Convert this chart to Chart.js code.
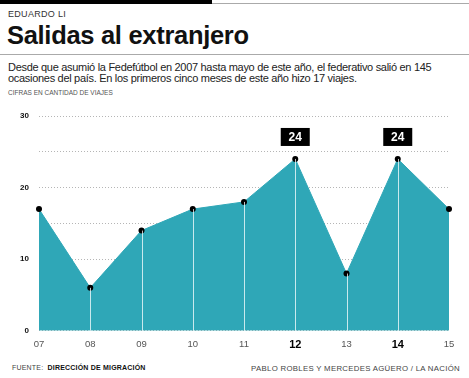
<!DOCTYPE html>
<html lang="es">
<head>
<meta charset="UTF-8">
<title>Salidas al extranjero</title>
<script src="https://cdn.jsdelivr.net/npm/chart.js"></script>
<style>
    body {
        margin: 0;
        width: 469px;
        height: 378px;
        background: #fff;
        font-family: "Liberation Sans", Arial, sans-serif;
        position: relative;
        overflow: hidden;
    }
    .topbar { position: absolute; left: 0; top: 0; width: 212px; height: 4px; background: #000; }
    .topline { position: absolute; left: 212px; top: 3px; right: 0; height: 1px; background: #aaa; }
    .author { position: absolute; left: 8px; top: 9px; font-size: 9px; color: #333; letter-spacing: 0.3px; }
    h1 { position: absolute; left: 7px; top: 21px; margin: 0; font-size: 25.5px; font-weight: bold; color: #111; letter-spacing: -0.3px; }
    .rule { position: absolute; left: 0; right: 0; top: 54px; height: 1px; background: #aaa; }
    .intro { position: absolute; left: 8px; top: 62px; width: 458px; font-size: 11px; line-height: 10.5px; color: #222; letter-spacing: -0.3px; }
    .units { position: absolute; left: 8px; top: 89px; font-size: 6.5px; color: #555; }
    .chart-box { position: absolute; left: 0; top: 100px; width: 469px; height: 262px; }
    .foot-left { position: absolute; left: 12px; top: 364px; font-size: 7px; color: #444; letter-spacing: 0.2px; }
    .foot-left b { color: #111; margin-left: 2px; }
    .foot-right { position: absolute; right: 9px; top: 364px; font-size: 7.8px; color: #444; letter-spacing: 0.3px; }
</style>
</head>
<body>
    <div class="topbar"></div>
    <div class="topline"></div>
    <div class="author">EDUARDO LI</div>
    <h1>Salidas al extranjero</h1>
    <div class="rule"></div>
    <div class="intro">Desde que asumió la Fedefútbol en 2007 hasta mayo de este año, el federativo salió en 145 ocasiones del país. En los primeros cinco meses de este año hizo 17 viajes.</div>
    <div class="units">CIFRAS EN CANTIDAD DE VIAJES</div>
    <div class="chart-box"><canvas id="viajes"></canvas></div>
    <div class="foot-left">FUENTE: <b>DIRECCIÓN DE MIGRACIÓN</b></div>
    <div class="foot-right">PABLO ROBLES Y MERCEDES AGÜERO / LA NACIÓN</div>

<script>
    const years = ["07", "08", "09", "10", "11", "12", "13", "14", "15"];
    const trips = [17, 6, 14, 17, 18, 24, 8, 24, 17];
    const highlighted = ["12", "14"];

    const teal = "#2fa7b7";

    // lineas blancas verticales desde cada punto hasta la base
    const dropLines = {
        id: "dropLines",
        afterDatasetsDraw(chart) {
            const ctx = chart.ctx;
            const meta = chart.getDatasetMeta(0);
            const y0 = chart.scales.y.getPixelForValue(0);
            ctx.save();
            ctx.strokeStyle = "rgba(255,255,255,0.75)";
            ctx.lineWidth = 1;
            meta.data.forEach((pt, i) => {
                if (i === 0 || i === meta.data.length - 1) return;
                ctx.beginPath();
                ctx.moveTo(Math.round(pt.x) + 0.5, pt.y);
                ctx.lineTo(Math.round(pt.x) + 0.5, y0);
                ctx.stroke();
            });
            // etiquetas en caja negra
            meta.data.forEach((pt, i) => {
                if (!highlighted.includes(years[i])) return;
                const w = 29, h = 18;
                ctx.fillStyle = "#000";
                ctx.fillRect(pt.x - w / 2, pt.y - 31, w, h);
                ctx.fillStyle = "#fff";
                ctx.font = "bold 12px 'Liberation Sans', Arial, sans-serif";
                ctx.textAlign = "center";
                ctx.textBaseline = "middle";
                ctx.fillText(String(trips[i]), pt.x, pt.y - 21.5);
            });
            ctx.restore();
        }
    };

    new Chart(document.getElementById("viajes"), {
        type: "line",
        data: {
            labels: years,
            datasets: [{
                data: trips,
                borderColor: teal,
                borderWidth: 1,
                backgroundColor: teal,
                fill: "origin",
                tension: 0,
                pointRadius: 3,
                pointBackgroundColor: "#000",
                pointBorderColor: "#000",
                pointBorderWidth: 0
            }]
        },
        options: {
            responsive: true,
            maintainAspectRatio: false,
            animation: false,
            layout: { padding: { top: 16, right: 20, bottom: 10, left: 0 } },
            plugins: { legend: { display: false }, tooltip: { enabled: false } },
            scales: {
                x: {
                    offset: false,
                    grid: { display: false },
                    border: { display: false },
                    ticks: {
                        padding: 0,
                        color: ctx => highlighted.includes(years[ctx.index]) ? "#000" : "#555",
                        font: ctx => ({
                            family: "'Liberation Sans', Arial, sans-serif",
                            size: highlighted.includes(years[ctx.index]) ? 11 : 9.5,
                            weight: highlighted.includes(years[ctx.index]) ? "bold" : "normal"
                        })
                    }
                },
                y: {
                    min: 0,
                    max: 30,
                    afterFit(scale) { scale.width = 39; },
                    grid: {
                        color: "#b5b5b5",
                        lineWidth: 1,
                        drawTicks: false
                    },
                    border: { display: false, dash: [1, 2] },
                    ticks: {
                        stepSize: 5,
                        padding: 10,
                        color: "#111",
                        font: { family: "'Liberation Sans', Arial, sans-serif", size: 8, weight: "bold" },
                        callback: v => v % 10 === 0 ? v : ""
                    }
                }
            }
        },
        plugins: [dropLines]
    });
</script>
</body>
</html>
